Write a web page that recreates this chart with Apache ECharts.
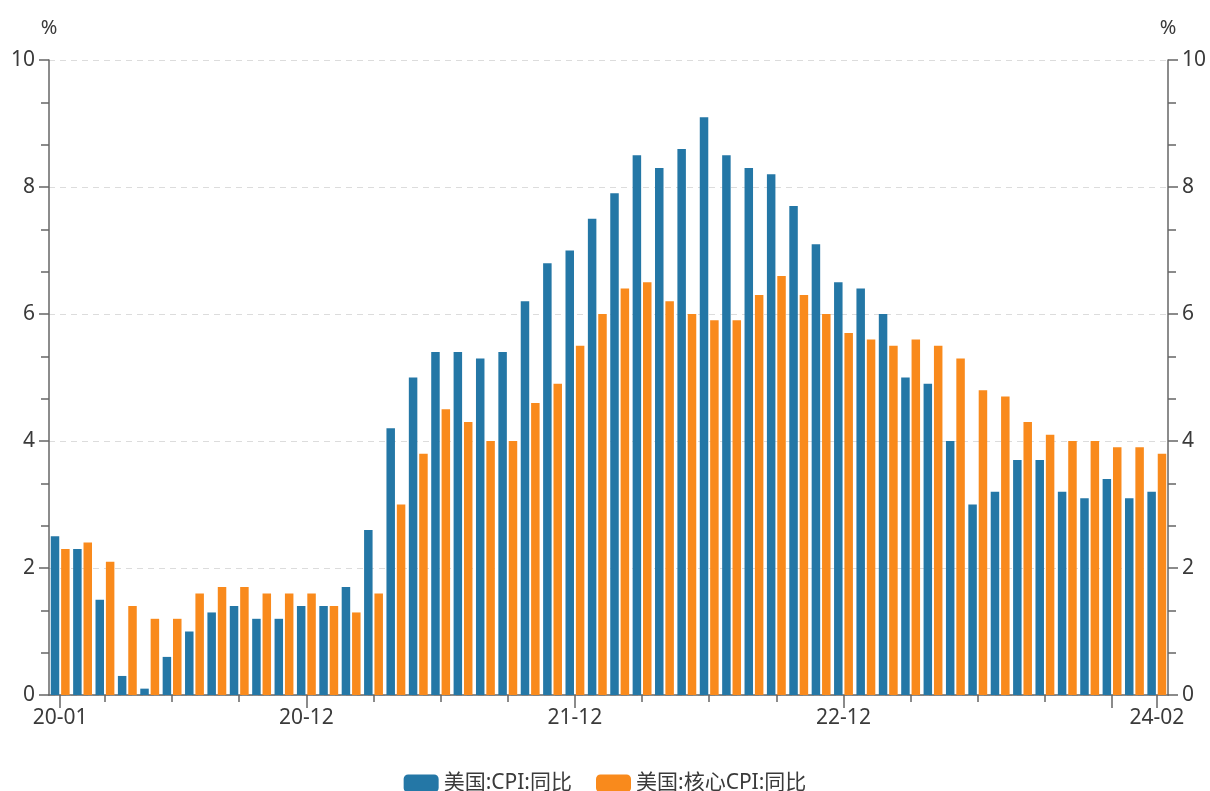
<!DOCTYPE html>
<html>
<head>
<meta charset="utf-8">
<script src="https://cdn.jsdelivr.net/npm/echarts@6/dist/echarts.min.js"></script>
<style>
  html, body { margin: 0; padding: 0; background: #fff; }
  #chart { width: 1210px; height: 791px; }
</style>
</head>
<body>
<div id="chart"></div>
<script>
// Monthly categories, 2020-01 .. 2024-02
const months = [
  '20-01','20-02','20-03','20-04','20-05','20-06','20-07','20-08','20-09','20-10','20-11','20-12',
  '21-01','21-02','21-03','21-04','21-05','21-06','21-07','21-08','21-09','21-10','21-11','21-12',
  '22-01','22-02','22-03','22-04','22-05','22-06','22-07','22-08','22-09','22-10','22-11','22-12',
  '23-01','23-02','23-03','23-04','23-05','23-06','23-07','23-08','23-09','23-10','23-11','23-12',
  '24-01','24-02'
];

// Headline CPI, year-over-year (%)
const cpiYoY = [
  2.5, 2.3, 1.5, 0.3, 0.1, 0.6, 1.0, 1.3, 1.4, 1.2, 1.2, 1.4,
  1.4, 1.7, 2.6, 4.2, 5.0, 5.4, 5.4, 5.3, 5.4, 6.2, 6.8, 7.0,
  7.5, 7.9, 8.5, 8.3, 8.6, 9.1, 8.5, 8.3, 8.2, 7.7, 7.1, 6.5,
  6.4, 6.0, 5.0, 4.9, 4.0, 3.0, 3.2, 3.7, 3.7, 3.2, 3.1, 3.4,
  3.1, 3.2
];

// Core CPI, year-over-year (%)
const coreCpiYoY = [
  2.3, 2.4, 2.1, 1.4, 1.2, 1.2, 1.6, 1.7, 1.7, 1.6, 1.6, 1.6,
  1.4, 1.3, 1.6, 3.0, 3.8, 4.5, 4.3, 4.0, 4.0, 4.6, 4.9, 5.5,
  6.0, 6.4, 6.5, 6.2, 6.0, 5.9, 5.9, 6.3, 6.6, 6.3, 6.0, 5.7,
  5.6, 5.5, 5.6, 5.5, 5.3, 4.8, 4.7, 4.3, 4.1, 4.0, 4.0, 3.9,
  3.9, 3.8
];

const seriesNames = ['美国:CPI:同比', '美国:核心CPI:同比'];
const labelIndices = [0, 11, 23, 35, 49];
const longTickIndices = [0, 11, 23, 35, 47, 49];

const FONT = '"Noto Sans", "Noto Sans CJK SC", sans-serif';
const FS = 21;
const TEXT = '#3a3a3a';
const AXIS = '#666666';

const chart = echarts.init(document.getElementById('chart'), null, { renderer: 'canvas' });

const yAxisBase = {
  type: 'value',
  min: 0,
  max: 10,
  interval: 2,
  name: '%',
  nameLocation: 'end',
  nameGap: 22,
  nameTextStyle: { color: TEXT, fontSize: 20, fontFamily: FONT },
  axisLine: { show: true, lineStyle: { color: AXIS, width: 1.5 } },
  axisTick: { show: true, length: 10, lineStyle: { color: AXIS, width: 1.5 } },
  minorTick: { show: true, splitNumber: 3, length: 8, lineStyle: { color: AXIS, width: 1.5 } },
  axisLabel: { color: TEXT, fontSize: FS, fontFamily: FONT, margin: 14 },
  splitLine: { show: true, lineStyle: { color: '#dcdcdc', type: [6, 5], width: 1 } }
};

chart.setOption({
  animation: false,
  color: ['#2477a6', '#f98a1c'],
  grid: { left: 49, right: 42, top: 60, bottom: 96, containLabel: false },
  legend: {
    data: seriesNames,
    top: 768,
    left: 'center',
    itemWidth: 35,
    itemHeight: 18,
    itemGap: 24,
    icon: 'roundRect',
    textStyle: { color: TEXT, fontSize: FS, fontFamily: FONT }
  },
  xAxis: [
    {
      type: 'category',
      data: months,
      position: 'bottom',
      axisLine: { show: true, lineStyle: { color: AXIS, width: 1.5 } },
      axisTick: {
        show: true,
        alignWithLabel: true,
        length: 7,
        interval: (i) => i % 3 === 2,
        lineStyle: { color: AXIS, width: 1.5 }
      },
      axisLabel: {
        color: TEXT,
        fontSize: FS,
        fontFamily: FONT,
        margin: 13,
        interval: (i) => labelIndices.includes(i)
      }
    },
    {
      type: 'category',
      data: months,
      position: 'bottom',
      offset: 0,
      axisLine: { show: false },
      axisTick: {
        show: true,
        alignWithLabel: true,
        length: 13,
        interval: (i) => longTickIndices.includes(i),
        lineStyle: { color: AXIS, width: 1.5 }
      },
      axisLabel: { show: false },
      splitLine: { show: false }
    }
  ],
  yAxis: [
    Object.assign({}, yAxisBase, { position: 'left' }),
    Object.assign({}, yAxisBase, { position: 'right', splitLine: { show: false } })
  ],
  series: [
    {
      name: seriesNames[0],
      type: 'bar',
      xAxisIndex: 0,
      yAxisIndex: 0,
      data: cpiYoY,
      barWidth: 8.5,
      barGap: '22%'
    },
    {
      name: seriesNames[1],
      type: 'bar',
      xAxisIndex: 0,
      yAxisIndex: 0,
      data: coreCpiYoY,
      barWidth: 8.5,
      barGap: '22%'
    }
  ]
});
</script>
</body>
</html>
